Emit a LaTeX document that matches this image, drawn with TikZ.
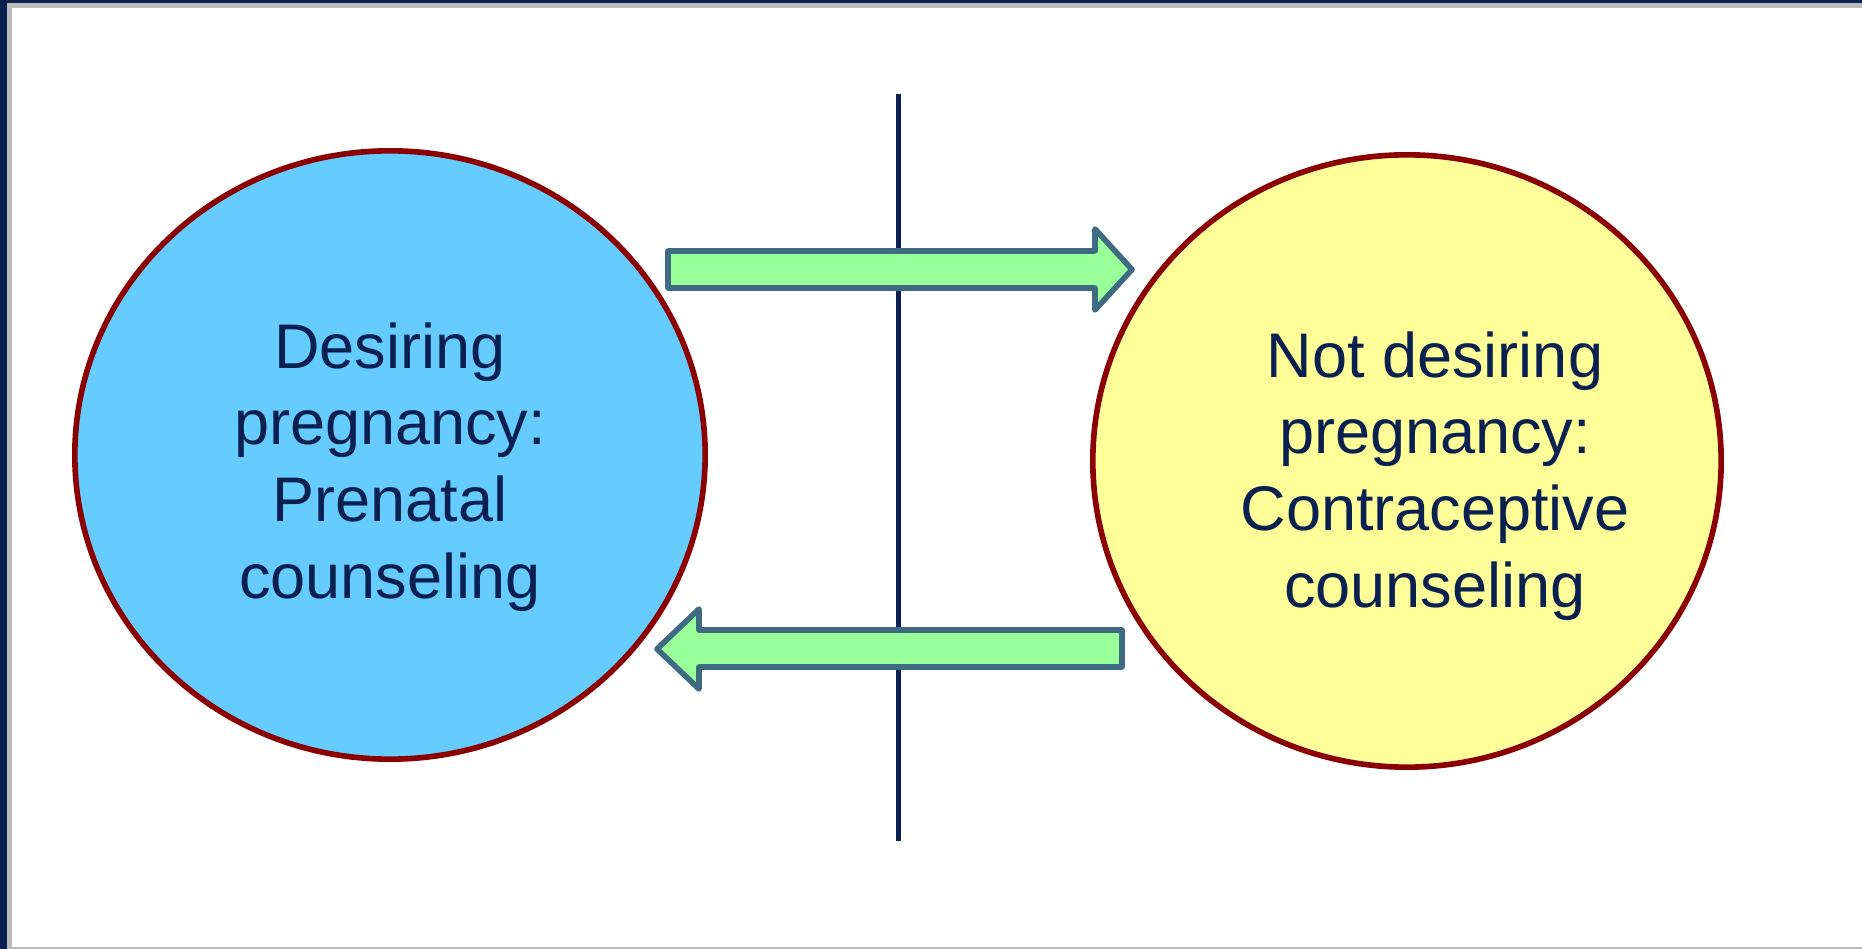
\documentclass[tikz,border=0pt]{standalone}
\usepackage{fontspec}
\setmainfont{Liberation Sans}
\usetikzlibrary{shapes.geometric}
\definecolor{navy}{HTML}{0A2050}
\definecolor{framegray}{HTML}{BBBBBB}
\definecolor{ringred}{HTML}{8B0000}
\definecolor{skyfill}{HTML}{66CCFF}
\definecolor{lemonfill}{HTML}{FFFF99}
\definecolor{mintfill}{HTML}{99FF99}
\definecolor{arrowedge}{HTML}{3E6A82}
\begin{document}
\begin{tikzpicture}[x=0.01cm,y=-0.01cm,
  ring/.style={ellipse,draw=ringred,line width=1.6pt,inner sep=0pt},
  caption/.style={text=navy,align=center,inner sep=0pt,font=\fontsize{17.93pt}{21.82pt}\selectfont},
  blockarrow/.style={draw=arrowedge,fill=mintfill,line width=1.6pt,line join=round}]
\useasboundingbox (0,0) rectangle (1862,949);
% frame of the slide
\fill[framegray] (0,0) rectangle (1862,8);\fill[framegray] (0,0) rectangle (12,949);\fill[framegray] (0,946.7) rectangle (1862,949);
\fill[navy] (0,0) rectangle (1862,3);\fill[navy] (0,0) rectangle (7,949);
% divider
\coordinate (top) at (898.5,94);\coordinate (bot) at (898.5,841);
\draw[navy,line width=1.5pt] (top)--(bot);
% the two states
\node[ring,fill=skyfill,minimum width=6.30cm,minimum height=6.08cm] (want) at (390,455) {};
\node[ring,fill=lemonfill,minimum width=6.28cm,minimum height=6.12cm] (avoid) at (1407,461) {};
\node[caption] (wanttext) at (390,467) {Desiring\\pregnancy:\\Prenatal\\counseling};
\node[caption] (avoidtext) at (1435,476) {Not desiring\\pregnancy:\\Contraceptive\\counseling};
% arrows between them
\draw[blockarrow] (668,251)--(1095,251)--(1095,229)--(1132,269.5)--(1095,310)--(1095,288)--(668,288)--cycle;
\draw[blockarrow] (1122,630)--(699,630)--(699,609)--(657,649)--(699,689)--(699,667)--(1122,667)--cycle;
\end{tikzpicture}
\end{document}
